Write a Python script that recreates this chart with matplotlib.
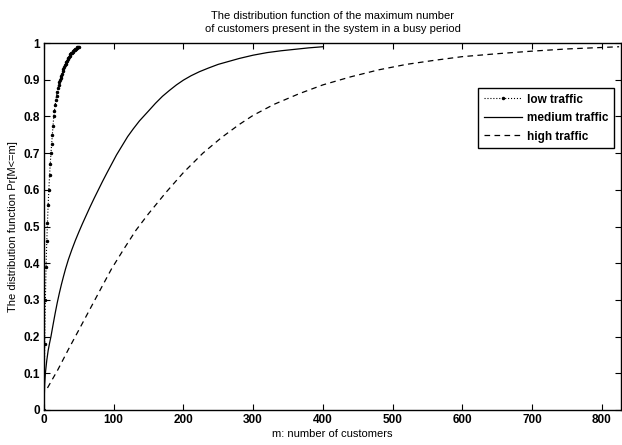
import numpy as np
import matplotlib
matplotlib.use("Agg")
import matplotlib.pyplot as plt

# values
low_m = np.arange(0, 51)
low_p = [0.0, 0.18, 0.30, 0.39, 0.46, 0.51, 0.56, 0.60, 0.64, 0.67, 0.70,
         0.725, 0.75, 0.775, 0.80, 0.815, 0.83, 0.845, 0.857, 0.868, 0.878,
         0.886, 0.893, 0.899, 0.905, 0.911, 0.917, 0.923, 0.929, 0.934, 0.939,
         0.944, 0.948, 0.952, 0.956, 0.960, 0.963, 0.966, 0.969, 0.972, 0.974,
         0.976, 0.978, 0.980, 0.982, 0.984, 0.985, 0.987, 0.988, 0.989, 0.990]

med_m = [0, 1, 2, 4, 6, 8, 10, 13, 16, 19, 22, 25, 28, 31, 35, 40,
         45, 50, 55, 60, 66, 72, 78, 84, 90, 97, 104, 112, 120, 128, 137,
         150, 160, 170, 180, 190, 200, 211, 223, 236, 250, 265, 280, 300,
         320, 340, 360, 380, 400]
med_p = [0.01, 0.07, 0.10, 0.135, 0.162, 0.182, 0.20, 0.232, 0.263, 0.292,
         0.318, 0.342, 0.364, 0.385, 0.41, 0.437, 0.462, 0.485, 0.507,
         0.528, 0.553, 0.577, 0.60, 0.623, 0.645, 0.67, 0.695, 0.72, 0.745,
         0.766, 0.788, 0.815, 0.836, 0.855, 0.871, 0.886, 0.899, 0.911, 0.922,
         0.932, 0.942, 0.950, 0.958, 0.967, 0.974, 0.979, 0.983, 0.987, 0.99]

high_m = [5, 20, 35, 50, 66, 82, 97, 115, 132, 150, 175, 200, 228, 255, 280,
          300, 330, 366, 400, 440, 480, 520, 560, 600, 650, 700, 750, 800, 825]
high_p = [0.06, 0.11, 0.165, 0.218, 0.275, 0.332, 0.385, 0.44, 0.49, 0.535,
          0.593, 0.647, 0.70, 0.743, 0.778, 0.803, 0.833, 0.862, 0.886, 0.908,
          0.927, 0.942, 0.953, 0.963, 0.971, 0.978, 0.984, 0.988, 0.99]

x_ticks = [0, 100, 200, 300, 400, 500, 600, 700, 800]
y_ticks = [0, 0.1, 0.2, 0.3, 0.4, 0.5, 0.6, 0.7, 0.8, 0.9, 1]
y_labels = ["0", "0.1", "0.2", "0.3", "0.4", "0.5", "0.6", "0.7", "0.8", "0.9", "1"]

plt.rcParams['font.family'] = ['Liberation Sans', 'DejaVu Sans']

fig = plt.figure(figsize=(6.22, 4.45), dpi=100)
ax = fig.add_axes([0.0707, 0.0787, 0.928, 0.8245])

ax.plot(low_m, low_p, ':', color='k', marker='.', ms=3, lw=0.8, label='low traffic')
ax.plot(med_m, med_p, '-', color='k', lw=0.9, label='medium traffic')
ax.plot(high_m, high_p, color='k', lw=0.9, dashes=(4.5, 3.5), label='high traffic')

ax.set_xlim(0, 828)
ax.set_ylim(0, 1)
ax.set_xticks(x_ticks)
ax.set_xticklabels([str(t) for t in x_ticks])
ax.set_yticks(y_ticks)
ax.set_yticklabels(y_labels)
ax.tick_params(direction='in', top=True, right=True, length=4, width=0.8,
               labelsize=8.5, pad=3)
for lab in ax.get_xticklabels() + ax.get_yticklabels():
    lab.set_fontweight('bold')
for sp in ax.spines.values():
    sp.set_linewidth(1.0)

ax.set_xlabel("m: number of customers", fontsize=8, labelpad=2)
ax.set_ylabel("The distribution function Pr[M<=m]", fontsize=8, labelpad=4)
ax.set_title("The distribution function of the maximum number\n"
             "of customers present in the system in a busy period",
             fontsize=8, pad=8, linespacing=1.35)

leg = ax.legend(loc='upper right', bbox_to_anchor=(0.988, 0.877),
                borderaxespad=0, numpoints=1, fancybox=False, framealpha=1,
                edgecolor='k', prop={'size': 8.5, 'weight': 'bold'},
                handlelength=3.2, handletextpad=0.5, labelspacing=0.55,
                borderpad=0.45)
leg.get_frame().set_linewidth(1.0)

fig.savefig("out.png", dpi=100)
